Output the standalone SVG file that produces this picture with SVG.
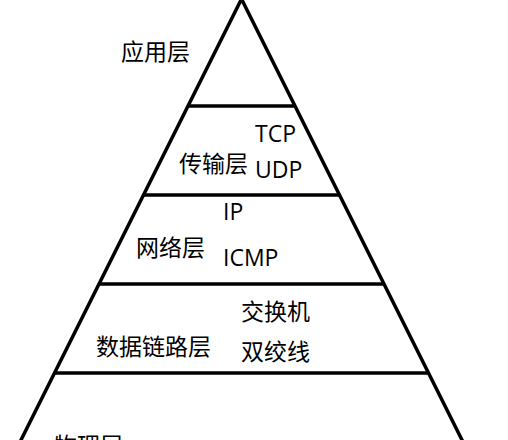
<svg xmlns="http://www.w3.org/2000/svg" width="508" height="440" viewBox="0 0 508 440">
  <style>
    .edge { fill: none; stroke: #000; stroke-width: 3.5; stroke-linejoin: miter; }
    .sep { stroke: #000; stroke-width: 3.5; }
    .t { font-family: "Open Sans", "Noto Sans CJK SC", sans-serif; font-size: 23px; fill: #000; }
  </style>
  <rect width="508" height="440" fill="#fff"/>
  <g id="pyramid">
    <path class="edge" d="M 20,442 L 241.5,-1 L 463,442"/>
    <line class="sep" x1="188" y1="106" x2="295" y2="106"/>
    <line class="sep" x1="143.5" y1="195" x2="339.5" y2="195"/>
    <line class="sep" x1="99" y1="284" x2="384" y2="284"/>
    <line class="sep" x1="54.5" y1="373" x2="428.5" y2="373"/>
  </g>
  <g id="application">
    <text class="t" x="121" y="60">应用层</text>
  </g>
  <g id="transport">
    <text class="t" x="179" y="172">传输层</text>
    <text class="t" x="255" y="142">TCP</text>
    <text class="t" x="255" y="178">UDP</text>
  </g>
  <g id="network">
    <text class="t" x="136" y="256">网络层</text>
    <text class="t" x="223" y="220">IP</text>
    <text class="t" x="223" y="266">ICMP</text>
  </g>
  <g id="datalink">
    <text class="t" x="96" y="355">数据链路层</text>
    <text class="t" x="241" y="320">交换机</text>
    <text class="t" x="241" y="360">双绞线</text>
  </g>
  <g id="physical">
    <text class="t" x="54" y="454">物理层</text>
  </g>
  <g id="connectors"/>
</svg>
